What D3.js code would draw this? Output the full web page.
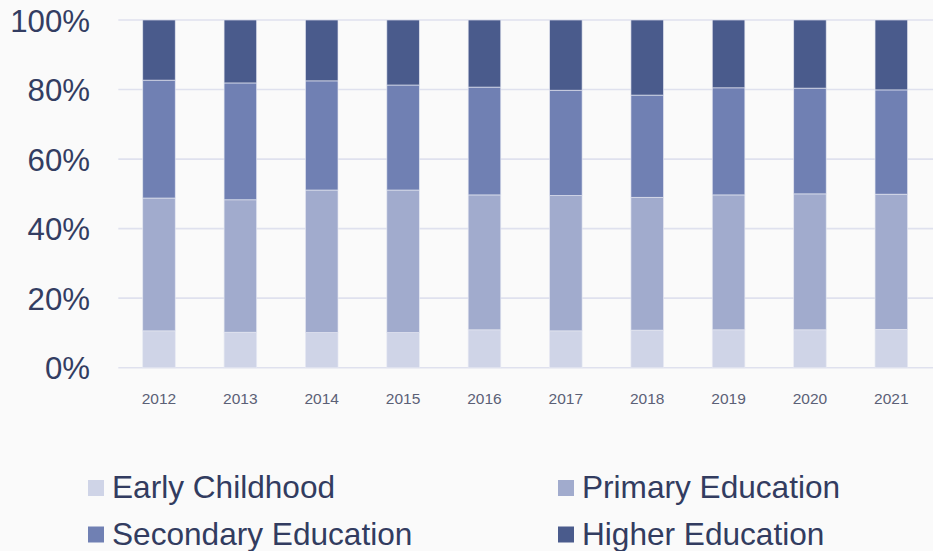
<!DOCTYPE html>
<html>
<head>
<meta charset="utf-8">
<script src="https://cdn.jsdelivr.net/npm/d3@7/dist/d3.min.js"></script>
<style>
  html, body { margin: 0; padding: 0; background: #fafafa; }
  svg { display: block; font-family: "Liberation Sans", Arial, sans-serif; }
</style>
</head>
<body>
<svg id="chart" width="933" height="551"></svg>
<script>
const years = ["2012","2013","2014","2015","2016","2017","2018","2019","2020","2021"];
const seriesNames = ["Early Childhood","Primary Education","Secondary Education","Higher Education"];
const earlyChildhood = [10.6,10.2,10.1,10.1,10.9,10.6,10.8,10.9,10.9,11.0];
const primaryEducation = [38.2,38.1,41.0,41.0,38.8,38.9,38.2,38.8,39.1,38.9];
const secondaryEducation = [33.9,33.6,31.4,30.2,31.0,30.3,29.4,30.8,30.4,30.0];
const higherEducation = [17.3,18.1,17.5,18.7,19.3,20.2,21.6,19.5,19.6,20.1];
const yTicks = [0,20,40,60,80,100];
const colors = ["#cfd4e7","#a1abcd","#7080b3","#4a5b8c"];

const seriesValues = [earlyChildhood, primaryEducation, secondaryEducation, higherEducation];
const table = years.map((yr, i) => {
  const row = { year: yr };
  seriesNames.forEach((n, k) => row[n] = seriesValues[k][i]);
  return row;
});
const stacked = d3.stack().keys(seriesNames).offset(d3.stackOffsetExpand)(table);

const svg = d3.select("#chart");
const plotLeft = 118.3, plotRight = 932, plotTop = 20, plotBottom = 367.7;

const x = d3.scaleBand().domain(years).range([plotLeft, plotRight]).paddingInner(0.6).paddingOuter(0.3);
const y = d3.scaleLinear().domain([0, 1]).range([plotBottom, plotTop]);

// gridlines
svg.append("g").selectAll("line").data(yTicks).join("line")
  .attr("x1", plotLeft).attr("x2", 933)
  .attr("y1", d => y(d / 100)).attr("y2", d => y(d / 100))
  .attr("stroke", "#dfe1ee").attr("stroke-width", 1.6);

// y labels
const yAxis = d3.axisLeft(y).tickValues(yTicks.map(d => d / 100)).tickFormat(d3.format(".0%")).tickSize(0).tickPadding(0);
const gy = svg.append("g").attr("transform", "translate(90,0)").call(yAxis);
gy.select(".domain").remove();
gy.selectAll("text").attr("font-size", 31.2).attr("fill", "#333d62")
  .attr("font-family", "'Liberation Sans', Arial, sans-serif").attr("dy", "0.36em");

// bars
svg.append("g").selectAll("g").data(stacked).join("g")
  .attr("fill", (d, i) => colors[i])
  .selectAll("rect").data(d => d).join("rect")
  .attr("x", d => x(d.data.year))
  .attr("width", x.bandwidth())
  .attr("y", d => y(d[1]))
  .attr("height", d => y(d[0]) - y(d[1]))
  .attr("stroke", "#e6e8f2").attr("stroke-width", 0.8).attr("stroke-opacity", 0.8);

// x labels
const xAxis = d3.axisBottom(x).tickSize(0).tickPadding(0);
const gx = svg.append("g").attr("transform", "translate(0,404)").call(xAxis);
gx.select(".domain").remove();
gx.selectAll("text").attr("font-size", 15.5).attr("fill", "#5b6076")
  .attr("font-family", "'Liberation Sans', Arial, sans-serif").attr("dy", 0);

// legend
const legendPos = [[88, 480], [558, 480], [88, 526.5], [558, 526.5]];
const lg = svg.append("g").selectAll("g").data(seriesNames).join("g")
  .attr("transform", (d, i) => `translate(${legendPos[i][0]},${legendPos[i][1]})`);
lg.append("rect").attr("width", 16).attr("height", 16).attr("fill", (d, i) => colors[i]);
lg.append("text").attr("x", 24).attr("y", 18.3).text(d => d)
  .attr("font-size", 31.6).attr("fill", "#323c60");
</script>
</body>
</html>
